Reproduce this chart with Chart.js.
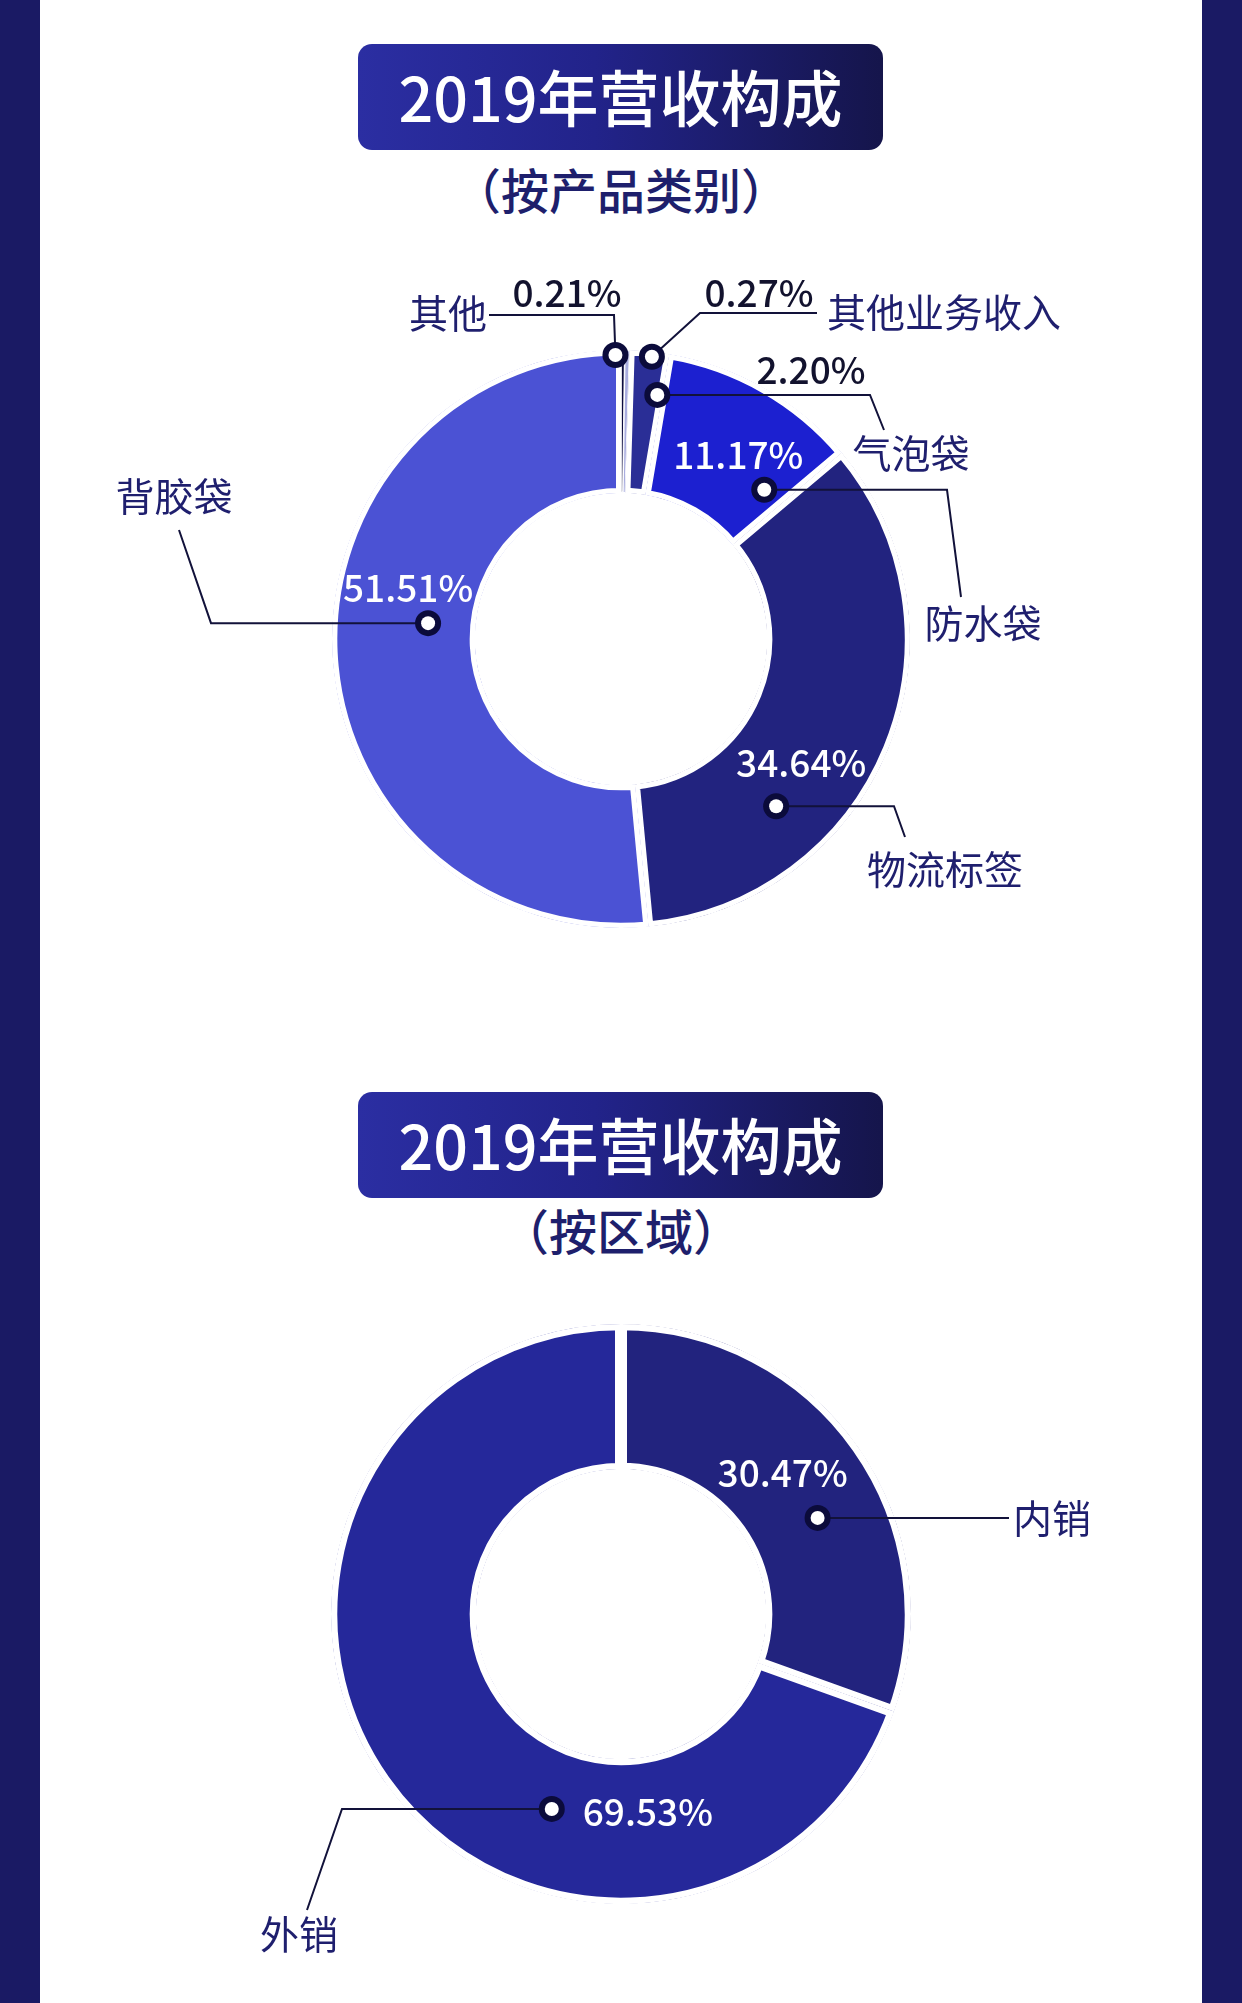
<!DOCTYPE html>
<html>
<head>
<meta charset="utf-8">
<script src="https://cdn.jsdelivr.net/npm/chart.js@4.4.1/dist/chart.umd.min.js"></script>
<style>
  html, body { margin: 0; padding: 0; background: #fff; }
  #page { position: relative; width: 1242px; height: 2003px; overflow: hidden; font-family: "Noto Sans CJK SC", sans-serif; }
  .side { position: absolute; top: 0; bottom: 0; width: 40px; background: #1a1a64; }
  .title { position: absolute; left: 358px; width: 525px; height: 106px; border-radius: 14px;
    background: linear-gradient(90deg, #2b2ea2 0%, #22238a 45%, #15154b 100%);
    color: #fff; font-size: 61px; font-weight: 500; text-align: center; line-height: 104px; }
  .sub { position: absolute; left: 0; width: 1242px; text-align: center; font-size: 48px; font-weight: 500; color: #1e1f6c; line-height: 56px; }
  .wrap { position: absolute; left: 0; width: 1242px; }
  canvas { display: block; }
</style>
</head>
<body>
<div id="page">
  <div class="side" style="left:0"></div>
  <div class="side" style="left:1202px"></div>

  <div class="title" style="top:44px">2019年营收构成</div>
  <div class="sub" style="top:160px">（按产品类别）</div>

  <div class="title" style="top:1092px">2019年营收构成</div>
  <div class="sub" style="top:1201px">（按区域）</div>

  <div class="wrap" style="top:200px;height:878px"><canvas id="productChart" width="1242" height="878"></canvas></div>
  <div class="wrap" style="top:1234px;height:760px"><canvas id="regionChart" width="1242" height="760"></canvas></div>
</div>

<script>
// 2019 revenue by product category (%)
const productLabels = ["其他", "其他业务收入", "气泡袋", "防水袋", "物流标签", "背胶袋"];
const productShares = [0.21, 0.27, 2.20, 11.17, 34.64, 51.51];
const productColors = ["#0c0c3e", "#a9addf", "#2a2e96", "#1c20d0", "#22237f", "#4b52d4"];

// 2019 revenue by region (%)
const regionLabels = ["内销", "外销"];
const regionShares = [30.47, 69.53];
const regionColors = ["#22237e", "#25289a"];

const NAVY = "#1f1f6e";
const FONT = '"Noto Sans CJK SC", sans-serif';

// callout layout: where the dot sits on the slice, where the leader goes,
// where the name and the value are written (offsets from the ring centre)
const productCallouts = [
  { at: 0.5, rf: 1.0, nudge: -1.5, lead: [[-7, -324], [-132, -324]],
    name: [-134, -326, "right"], value: [-54, -346, "center"], valueAbs: true, valueColor: "#12122e" },
  { at: 0.5, rf: 1.0, nudge: 5, lead: [[79, -326], [196, -326]],
    name: [206, -327, "left"], value: [138, -346, "center"], valueAbs: true, valueColor: "#12122e" },
  { at: 0.85, rf: 0.72, nudge: 0, lead: [[249, null], [263, -209]],
    name: [290, -186, "center"], value: [190, -269, "center"], valueAbs: true, valueColor: "#12122e" },
  { at: 0.85, rf: 0.42, nudge: 0, lead: [[326, null], [340, -42]],
    name: [362, -16, "center"], value: [-26, -35, "center"], valueColor: "#fff" },
  { at: 0.70, rf: 0.58, nudge: 0, lead: [[273, null], [284, 198]],
    name: [324, 230, "center"], value: [25, -43, "center"], valueColor: "#fff" },
  { at: 0.54, rf: 0.32, nudge: 0, lead: [[-410, null], [-442, -109]],
    name: [-447, -143, "center"], value: [-20, -35, "center"], valueColor: "#fff" }
];

const regionCallouts = [
  { at: 0.583, rf: 0.51, nudge: 0, lead: [[388, null]],
    name: [392, null, "left"], value: [-35, -45, "center"], valueColor: "#fff" },
  { at: 0.359, rf: 0.42, nudge: 0, lead: [[-279, null], [-314, 296]],
    name: [-322, 320, "center"], value: [31, 3, "left"], valueColor: "#fff" }
];

function calloutPlugin(callouts, gap) {
  return {
    id: "callouts",
    afterDatasetsDraw(chart) {
      const ctx = chart.ctx;
      const meta = chart.getDatasetMeta(0);
      const values = chart.data.datasets[0].data;
      const names = chart.data.labels;

      const spots = meta.data.map((arc, i) => {
        const c = callouts[i];
        const p = arc.getProps(["x", "y", "startAngle", "endAngle", "innerRadius", "outerRadius"], true);
        const rIn = p.innerRadius + gap;
        const rOut = p.outerRadius - gap;
        const a = p.startAngle + c.at * (p.endAngle - p.startAngle) + c.nudge * Math.PI / 180;
        const r = rIn + c.rf * (rOut - rIn);
        return { cx: p.x, cy: p.y, x: p.x + r * Math.cos(a), y: p.y + r * Math.sin(a) };
      });

      ctx.save();
      // leader lines
      ctx.strokeStyle = "#12123a";
      ctx.lineWidth = 2;
      spots.forEach((s, i) => {
        ctx.beginPath();
        ctx.moveTo(s.x, s.y);
        callouts[i].lead.forEach(([dx, dy]) => {
          ctx.lineTo(s.cx + dx, dy === null ? s.y : s.cy + dy);
        });
        ctx.stroke();
      });

      // dots
      spots.forEach((s) => {
        ctx.beginPath();
        ctx.arc(s.x, s.y, 13, 0, Math.PI * 2);
        ctx.fillStyle = "#0b0b3b";
        ctx.fill();
        ctx.beginPath();
        ctx.arc(s.x, s.y, 7, 0, Math.PI * 2);
        ctx.fillStyle = "#fff";
        ctx.fill();
      });

      // texts
      ctx.textBaseline = "middle";
      spots.forEach((s, i) => {
        const c = callouts[i];
        ctx.font = "400 39px " + FONT;
        ctx.fillStyle = NAVY;
        ctx.textAlign = c.name[2];
        ctx.fillText(names[i], s.cx + c.name[0], c.name[1] === null ? s.y : s.cy + c.name[1]);

        ctx.font = "500 37px " + FONT;
        ctx.fillStyle = c.valueColor;
        ctx.textAlign = c.value[2];
        const vx = c.valueAbs ? s.cx + c.value[0] : s.x + c.value[0];
        const vy = c.valueAbs ? s.cy + c.value[1] : s.y + c.value[1];
        ctx.fillText(values[i].toFixed(2) + "%", vx, vy);
      });
      ctx.restore();
    }
  };
}

function makeDonut(id, labels, data, colors, widths, radius, cutout, callouts, gap) {
  return new Chart(document.getElementById(id), {
    type: "doughnut",
    data: {
      labels: labels,
      datasets: [{
        data: data,
        backgroundColor: colors,
        borderColor: "#ffffff",
        borderWidth: widths,
        borderAlign: "inner",
        hoverOffset: 0
      }]
    },
    options: {
      responsive: false,
      animation: false,
      radius: radius,
      cutout: (cutout / radius * 100).toFixed(2) + "%",
      events: [],
      layout: { padding: 0 },
      plugins: {
        legend: { display: false },
        tooltip: { enabled: false }
      }
    },
    plugins: [calloutPlugin(callouts, gap)]
  });
}

makeDonut("productChart", productLabels, productShares, productColors,
  [0.8, 0.8, 5, 5, 5, 5], 289, 146, productCallouts, 5);
makeDonut("regionChart", regionLabels, regionShares, regionColors,
  [6, 6], 290, 145, regionCallouts, 6);
</script>
</body>
</html>
